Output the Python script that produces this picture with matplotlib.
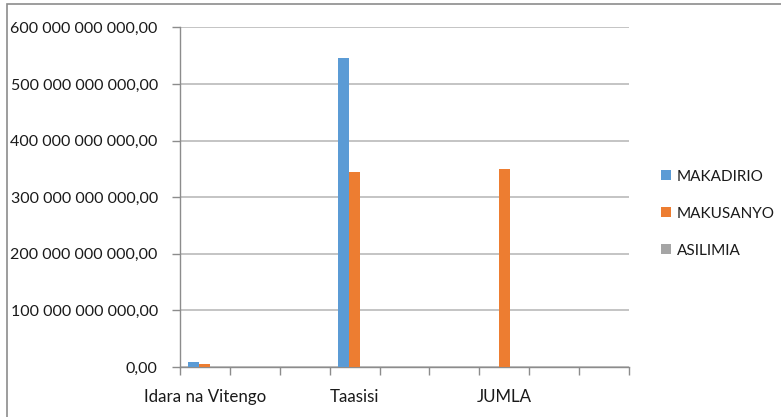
import matplotlib
matplotlib.use("Agg")
import matplotlib.pyplot as plt
from matplotlib.patches import Rectangle
from matplotlib.ticker import FuncFormatter, FixedLocator
import numpy as np

plt.rcParams['font.family'] = ['Lato', 'DejaVu Sans']

# data
categories = ["Idara na Vitengo", "", "", "Taasisi", "", "", "JUMLA", "", ""]
makadirio = [9e9, 0, 0, 546e9, 0, 0, 0, 0, 0]
makusanyo = [6e9, 0, 0, 345e9, 0, 0, 350e9, 0, 0]
asilimia = [0, 0, 0, 0, 0, 0, 0, 0, 0]
series_names = ["MAKADIRIO", "MAKUSANYO", "ASILIMIA"]
series_colors = ["#5B9BD5", "#ED7D31", "#A5A5A5"]
y_ticks = [0, 100e9, 200e9, 300e9, 400e9, 500e9, 600e9]

W, H = 781, 417
fig = plt.figure(figsize=(W / 100, H / 100), dpi=100)
ax = fig.add_axes([180 / W, 1 - 367 / H, (629 - 180) / W, (367 - 27.5) / H])

x = np.arange(len(categories))
bw = 0.22
for i, (vals, name, col) in enumerate(zip([makadirio, makusanyo, asilimia], series_names, series_colors)):
    ax.bar(x + (i - 1) * bw, vals, width=bw, color=col, label=name, zorder=3)

ax.set_xlim(-0.5, len(categories) - 0.5)
ax.set_ylim(0, 600e9)
ax.yaxis.set_major_locator(FixedLocator(y_ticks))


def fmt(v, pos):
    s = f"{v:,.2f}".replace(",", " ").replace(".", ",")
    return s


ax.yaxis.set_major_formatter(FuncFormatter(fmt))
ax.grid(axis="y", color="#BFBFBF", linewidth=1.3, zorder=0)

# category labels every 3rd, tick marks on boundaries
ax.set_xticks(x[::3])
ax.set_xticklabels(categories[::3])
ax.set_xticks(np.arange(len(categories) + 1) - 0.5, minor=True)
ax.tick_params(axis="x", which="major", length=0, pad=16, labelsize=12.2, labelcolor="#1a1a1a")
ax.tick_params(axis="x", which="minor", length=6, color="#8C8C8C", width=1)
ax.tick_params(axis="y", length=6, color="#8C8C8C", width=1, pad=10, labelsize=11.5, labelcolor="#1a1a1a")

for s in ["top", "right"]:
    ax.spines[s].set_visible(False)
for s in ["left", "bottom"]:
    ax.spines[s].set_color("#8C8C8C")
    ax.spines[s].set_linewidth(1)

handles, labels = ax.get_legend_handles_labels()
fig.legend(handles, labels, loc="upper left", bbox_to_anchor=(647 / W, 1 - 156 / H),
           frameon=False, fontsize=11, handlelength=0.65, handleheight=0.65,
           handletextpad=0.4, labelspacing=1.5, labelcolor="#1a1a1a")

# outer chart border
fig.add_artist(Rectangle((6.5 / W, -0.1), 1.2, 1 - 4 / H + 0.1, transform=fig.transFigure,
                         fill=False, edgecolor="#8C8C8C", linewidth=1.2, clip_on=False))

fig.savefig("out.png", dpi=100)
